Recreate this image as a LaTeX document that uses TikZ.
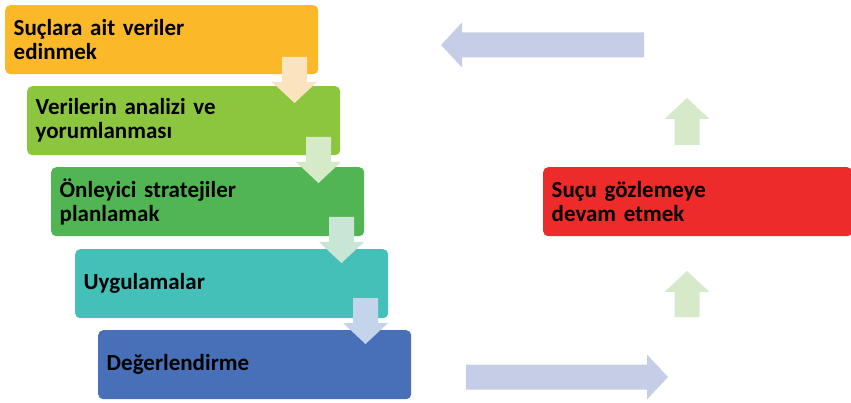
\documentclass[tikz,border=0pt]{standalone}
\usepackage{fontspec}
\setmainfont[WordSpace=0.8]{Carlito}
\definecolor{cOrange}{HTML}{FBB829}
\definecolor{cLime}{HTML}{8CC63F}
\definecolor{cGreen}{HTML}{52B553}
\definecolor{cTeal}{HTML}{44C0B8}
\definecolor{cBlue}{HTML}{4870B8}
\definecolor{cRed}{HTML}{EE2B2B}
\definecolor{aPeach}{HTML}{FCE3C0}
\definecolor{aLime}{HTML}{D5EAC6}
\definecolor{aMint}{HTML}{C8E6D6}
\definecolor{aSky}{HTML}{C4D4EB}
\definecolor{aLav}{HTML}{C6CEE7}
\definecolor{aUp}{HTML}{D6EAC9}
% block arrow: tail centre, angle, length, colour
\newcommand{\blk}[4]{%
  \begin{scope}[shift={(#1)},rotate=#2]
    \fill[#4] (0,-12.5) -- ({#3-21},-12.5) -- ({#3-21},-22.5) -- (#3,0)
      -- ({#3-21},22.5) -- ({#3-21},12.5) -- (0,12.5) -- cycle;
  \end{scope}}
\tikzset{
  stepbox/.style={rounded corners=5pt, anchor=north west, minimum height=69pt,
    text width=296pt, inner xsep=8.5pt, align=left,
    font=\fontsize{23}{24}\selectfont\bfseries, text=black},
}
\begin{document}
\begin{tikzpicture}[x=1pt, y=-1pt]
    \useasboundingbox (0,0) rectangle (851,403);
    \node (veri) at (5,5) [stepbox, fill=cOrange] {Suçlara ait veriler\\edinmek};
    \node (analiz) at (27,86) [stepbox, fill=cLime] {Verilerin analizi ve\\yorumlanması};
    \node (strat) at (51,167) [stepbox, fill=cGreen] {Önleyici stratejiler\\planlamak};
    \node (uygu) at (75,249) [stepbox, fill=cTeal] {Uygulamalar};
    \node (deger) at (98,330) [stepbox, fill=cBlue] {Değerlendirme};
    \node (gozlem) at (543,167) [stepbox, fill=cRed, text width=292pt] {Suçu gözlemeye\\devam etmek};
    \foreach \x/\y/\c in {294.5/57/aPeach, 318.5/137/aLime, 341.5/217/aMint, 365.5/298/aSky}
        \blk{\x,\y}{-90}{46}{\c};
    \blk{466,377}{0}{202}{aLav};
    \blk{687,317}{90}{46}{aUp};
    \blk{687,145}{90}{47}{aUp};
    \blk{644,45}{180}{203}{aLav};
\end{tikzpicture}
\end{document}
